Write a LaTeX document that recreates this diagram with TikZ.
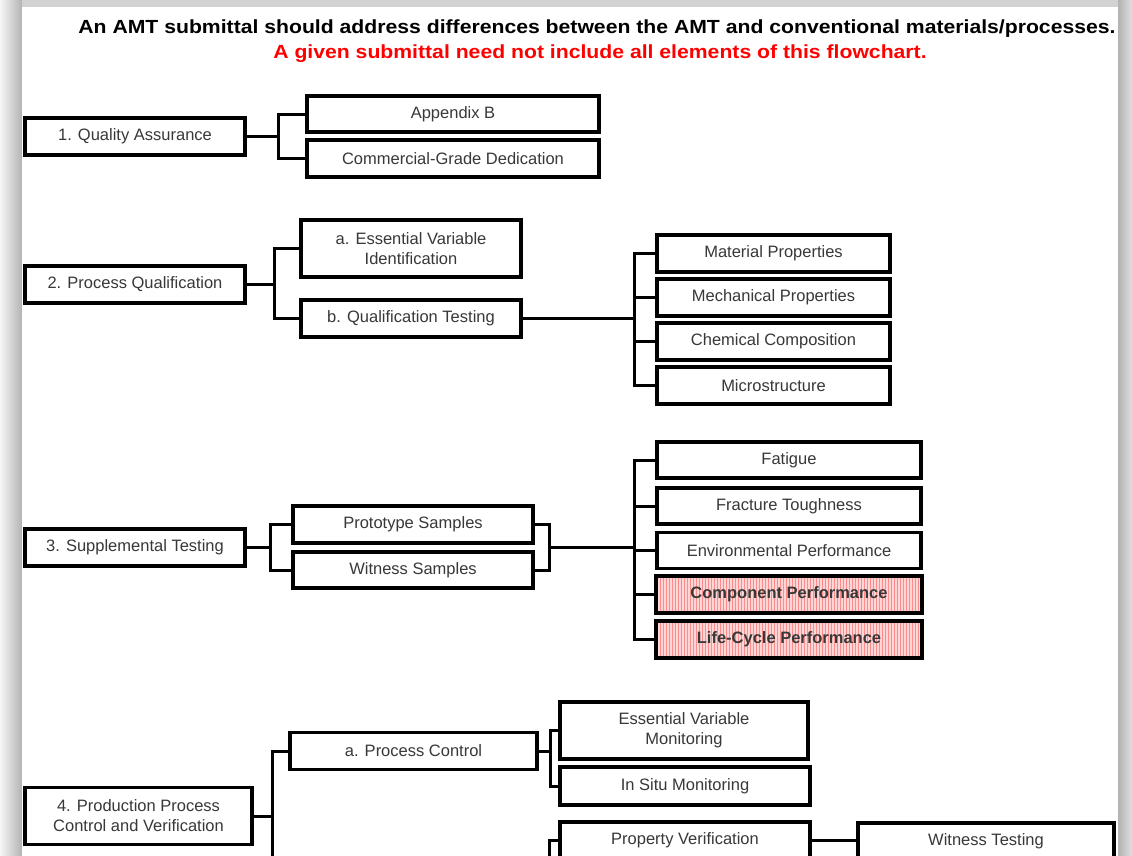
\documentclass[tikz,border=0pt]{standalone}
\usepackage{fontspec}
\usepackage{graphicx}
\setmainfont{Liberation Sans}
\usetikzlibrary{patterns,calc}

\tikzset{
  item/.style={draw, line width=3.2pt, align=center, inner sep=2pt, text=black!78,
    minimum height=37pt, font=\fontsize{16.5}{20}\selectfont},
  hot/.style={item, preaction={fill=red!16}, pattern=vertical lines, pattern color=red!45,
    font=\fontsize{16.5}{20}\selectfont\bfseries},
  link/.style={line width=3pt},
  head/.style={font=\fontsize{19}{22}\selectfont\bfseries},
}

\begin{document}
\begin{tikzpicture}[x=1pt, y=-1pt]

\useasboundingbox (0,0) rectangle (1132,855);
\clip (0,0) rectangle (1132,855);

% Page with shadow
\fill[gray!25] (0,0) rectangle (1132,855);
\shade[left color=gray!8, right color=gray!60] (0,0) rectangle (22,855);
\fill[gray!35] (22,0) rectangle (1118,7);
\shade[left color=gray!60, right color=gray!25] (1118,0) rectangle (1132,855);
\fill[white] (22,7) rectangle (1118,860);

% Heading
\node[head] (title) at (597,29)
  {\scalebox{1.115}[1]{An AMT submittal should address differences between the AMT and conventional materials/processes.}};
\node[head, text=red] (note) at (600,54)
  {\scalebox{1.115}[1]{A given submittal need not include all elements of this flowchart.}};

% 1. Quality Assurance
\node[item, minimum width=220pt] (qa) at (135,136.5) {1. Quality Assurance};
\node[item, minimum width=292pt, minimum height=36pt] (appb) at (453,114) {Appendix B};
\node[item, minimum width=292pt] (cgd) at (453,158.5) {Commercial-Grade Dedication};
\foreach \n in {appb,cgd}
  \draw[link] (qa.east) -- ++(32,0) |- (\n.west);

% 2. Process Qualification
\node[item, minimum width=220pt] (pq) at (135,284.5) {2. Process Qualification};
\node[item, minimum width=220pt, minimum height=57pt] (ev) at (411,248.5) {a. Essential Variable\\Identification};
\node[item, minimum width=220pt] (qt) at (411,318.5) {b. Qualification Testing};
\foreach \n/\y/\t in {mat/253.5/Material Properties, mech/297.5/Mechanical Properties,
    chem/341.5/Chemical Composition, micro/385.5/Microstructure}
  \node[item, minimum width=233pt] (\n) at (773.5,\y) {\t};
\foreach \n in {ev,qt}
  \draw[link] (pq.east) -- ++(28,0) |- (\n.west);
\foreach \n in {mat,mech,chem,micro}
  \draw[link] (qt.east) -- ++(112,0) |- (\n.west);

% 3. Supplemental Testing
\node[item, minimum width=220pt] (st) at (135,547.5) {3. Supplemental Testing};
\node[item, minimum width=240pt] (proto) at (413,524.5) {Prototype Samples};
\node[item, minimum width=240pt, minimum height=36pt] (wit) at (413,570) {Witness Samples};
\foreach \n/\y/\t in {fat/460/Fatigue, frac/506/Fracture Toughness, env/550.5/Environmental Performance}
  \node[item, minimum width=264pt, minimum height=36pt] (\n) at (789,\y) {\t};
\node[hot, minimum width=266pt] (comp) at (789,594.5) {Component Performance};
\node[hot, minimum width=266pt] (life) at (789,639.5) {Life-Cycle Performance};
\foreach \n in {proto,wit}
  \draw[link] (st.east) -- ++(24,0) |- (\n.west);
\draw[link] (proto.east) -- ++(15,0) |- (wit.east);
\coordinate (sj) at ($(proto.east)!0.5!(wit.east)+(15,0)$);
\foreach \n in {fat,frac,env,comp,life}
  \draw[link] (sj) -- ++(85,0) |- (\n.west);

% 4. Production Process Control and Verification
\node[item, minimum width=227pt, minimum height=57pt] (ppcv) at (138.5,816) {4. Production Process\\Control and Verification};
\node[item, minimum width=247pt] (pc) at (413.5,751) {a. Process Control};
\node[item, minimum width=248pt, minimum height=57pt] (esvm) at (684,730.5) {Essential Variable\\Monitoring};
\node[item, minimum width=250pt, minimum height=38pt] (insitu) at (685,786) {In Situ Monitoring};
\node[item, minimum width=250pt] (pv) at (685,840.5) {Property Verification};
\node[item, minimum width=256pt] (wt) at (986,841.5) {Witness Testing};
\draw[link] (ppcv.east) -- ++(19,0) |- (pc.west);
\draw[link] (ppcv.east) -- ++(19,0) -- ++(0,60);
\foreach \n in {esvm,insitu}
  \draw[link] (pc.east) -- ++(12,0) |- (\n.west);
\coordinate (pvbus) at (549,870);
\draw[link] (pvbus) |- (pv.west);
\draw[link] (pv.east) -- (pv.east -| wt.west);

\end{tikzpicture}
\end{document}
